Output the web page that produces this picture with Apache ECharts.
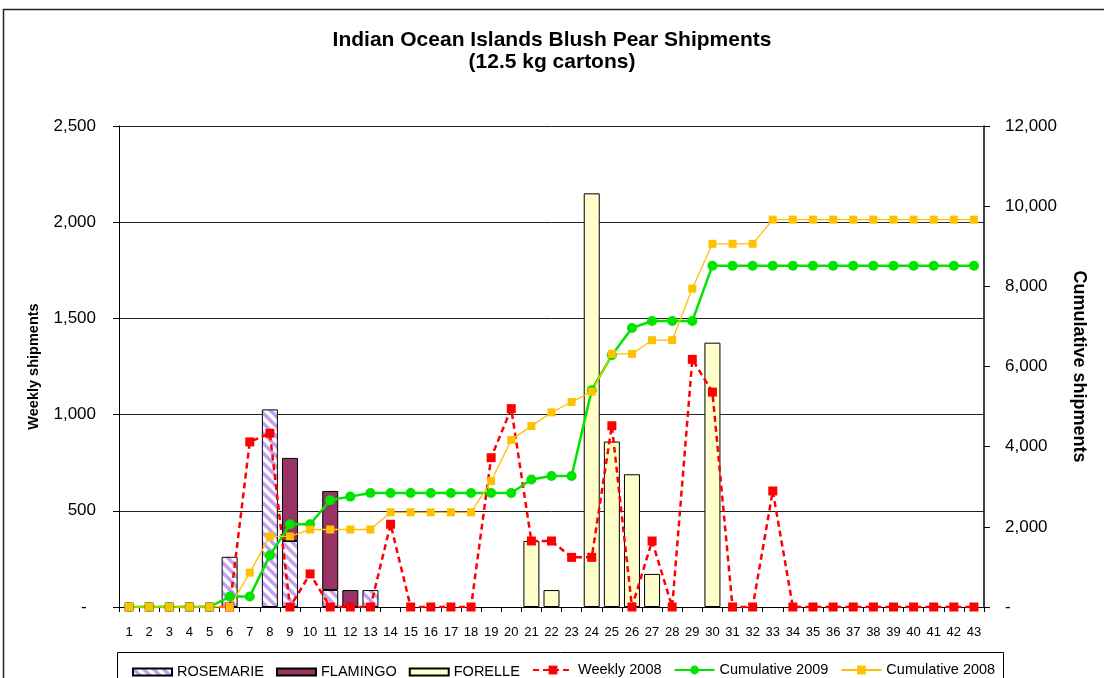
<!DOCTYPE html>
<html>
<head>
<meta charset="utf-8">
<script src="https://cdn.jsdelivr.net/npm/echarts@6/dist/echarts.min.js"></script>
<style>
  html, body { margin: 0; padding: 0; background: #fff; }
  #chart { width: 1104px; height: 678px; }
</style>
</head>
<body>
<div id="chart"></div>
<script>
// weeks 1..43
const weeks = ['1','2','3','4','5','6','7','8','9','10','11','12','13','14','15','16','17','18','19','20',
  '21','22','23','24','25','26','27','28','29','30','31','32','33','34','35','36','37','38','39','40','41','42','43'];

// weekly cartons per cultivar (2009), null = nothing shipped
const rosemarie = [null,null,null,null,null,261,null,1027,343,null,88,null,88,null,null,null,null,null,null,null,
  null,null,null,null,null,null,null,null,null,null,null,null,null,null,null,null,null,null,null,null,null,null,null];
const flamingo = [null,null,null,null,null,null,null,null,432,null,515,88,null,null,null,null,null,null,null,null,
  null,null,null,null,null,null,null,null,null,null,null,null,null,null,null,null,null,null,null,null,null,null,null];
const forelle = [null,null,null,null,null,null,null,null,null,null,null,null,null,null,null,null,null,null,null,null,
  343,88,null,2150,860,690,172,null,null,1374,null,null,null,null,null,null,null,null,null,null,null,null,null];

const weekly2008 = [0,0,0,0,0,0,858,903,0,172,0,0,0,430,0,0,0,0,776,1031,
  343,343,258,258,942,0,343,0,1287,1117,0,0,603,0,0,0,0,0,0,0,0,0,0];

const cumulative2009 = [0,0,0,0,0,261,261,1288,2063,2063,2666,2754,2842,2842,2842,2842,2842,2842,2842,2842,
  3180,3270,3270,5410,6283,6960,7135,7135,7135,8515,8515,8515,8515,8515,8515,8515,8515,8515,8515,8515,8515,8515,8515];

const cumulative2008 = [0,0,0,0,0,0,858,1761,1761,1933,1933,1933,1933,2363,2363,2363,2363,2363,3139,4170,
  4513,4856,5114,5372,6314,6314,6657,6657,7944,9061,9061,9061,9664,9664,9664,9664,9664,9664,9664,9664,9664,9664,9664];

const FONT = 'Liberation Sans, Arial, sans-serif';

// hatch for ROSEMARIE: white with lavender diagonal stripes
function makeHatch() {
  const c = document.createElement('canvas');
  c.width = 10; c.height = 10;
  const g = c.getContext('2d');
  g.fillStyle = '#ffffff';
  g.fillRect(0, 0, 10, 10);
  g.strokeStyle = '#c39ff0';
  g.lineWidth = 3.4;
  g.beginPath();
  g.moveTo(-3, -3); g.lineTo(13, 13);
  g.moveTo(-13, -3); g.lineTo(3, 13);
  g.moveTo(7, -3); g.lineTo(23, 13);
  g.stroke();
  return c;
}

const chart = echarts.init(document.getElementById('chart'));

const barBase = {
  type: 'bar',
  stack: 'cultivars',
  barWidth: 16,
  yAxisIndex: 0
};

const option = {
  animation: false,
  backgroundColor: '#fff',
  textStyle: { fontFamily: FONT },
  title: {
    text: 'Indian Ocean Islands Blush Pear Shipments\n(12.5 kg cartons)',
    left: 'center',
    top: 24,
    textStyle: { fontFamily: FONT, fontSize: 21, fontWeight: 'bold', color: '#000', lineHeight: 22 }
  },
  graphic: [
    {
      type: 'rect', z: -10, silent: true,
      shape: { x: 3.5, y: 9.5, width: 1120, height: 700 },
      style: { fill: 'none', stroke: '#222', lineWidth: 1.5 }
    },
    {
      type: 'rect', z: -5, silent: true,
      shape: { x: 117.5, y: 652.5, width: 886, height: 40 },
      style: { fill: '#fff', stroke: '#000', lineWidth: 1 }
    }
  ],
  legend: [
    {
      data: ['ROSEMARIE', 'FLAMINGO', 'FORELLE'],
      left: 127,
      top: 659.5,
      padding: 5,
      itemWidth: 39,
      itemHeight: 7,
      itemGap: 12,
      icon: 'rect',
      textStyle: { fontFamily: FONT, fontSize: 14.5, color: '#000' }
    },
    {
      data: ['Weekly 2008', 'Cumulative 2009', 'Cumulative 2008'],
      left: 527,
      top: 657.5,
      padding: 5,
      itemWidth: 40,
      itemHeight: 11,
      itemGap: 12,
      textStyle: { fontFamily: FONT, fontSize: 14.5, color: '#000' }
    }
  ],
  grid: { left: 119, right: 120, top: 126, bottom: 71 },
  xAxis: {
    type: 'category',
    data: weeks,
    axisLine: { lineStyle: { color: '#000', width: 1 } },
    axisTick: { show: true, alignWithLabel: false, length: 5, lineStyle: { color: '#000' } },
    axisLabel: { interval: 0, fontFamily: FONT, fontSize: 13, color: '#000', margin: 19 }
  },
  yAxis: [
    {
      type: 'value',
      min: 0, max: 2500, interval: 500,
      name: 'Weekly shipments',
      nameLocation: 'middle',
      nameRotate: 90,
      nameGap: 78,
      nameTextStyle: { fontFamily: FONT, fontSize: 14.5, fontWeight: 'bold', color: '#000' },
      axisLine: { show: true, lineStyle: { color: '#000', width: 1 } },
      axisTick: { show: true, length: 6, lineStyle: { color: '#000' } },
      axisLabel: {
        fontFamily: FONT, fontSize: 17, color: '#000', margin: 23,
        formatter: v => v === 0 ? '-  ' : v.toLocaleString('en-US')
      },
      splitLine: { show: true, lineStyle: { color: '#222', width: 1 } }
    },
    {
      type: 'value',
      min: 0, max: 12000, interval: 2000,
      position: 'right',
      name: 'Cumulative shipments',
      nameLocation: 'middle',
      nameRotate: -90,
      nameGap: 86,
      nameTextStyle: { fontFamily: FONT, fontSize: 18, fontWeight: 'bold', color: '#000' },
      axisLine: { show: true, lineStyle: { color: '#000', width: 1.5 } },
      axisTick: { show: true, length: 6, lineStyle: { color: '#000' } },
      axisLabel: {
        fontFamily: FONT, fontSize: 17, color: '#000', margin: 21,
        formatter: v => v === 0 ? '-' : v.toLocaleString('en-US')
      },
      splitLine: { show: false }
    }
  ],
  series: [
    Object.assign({}, barBase, {
      name: 'ROSEMARIE',
      data: rosemarie,
      itemStyle: { color: { image: makeHatch(), repeat: 'repeat' }, borderColor: '#000', borderWidth: 1 }
    }),
    Object.assign({}, barBase, {
      name: 'FLAMINGO',
      data: flamingo,
      itemStyle: { color: '#993366', borderColor: '#000', borderWidth: 1 }
    }),
    Object.assign({}, barBase, {
      name: 'FORELLE',
      data: forelle,
      itemStyle: { color: '#ffffcc', borderColor: '#000', borderWidth: 1 }
    }),
    {
      name: 'Weekly 2008',
      type: 'line',
      yAxisIndex: 0,
      data: weekly2008,
      symbol: 'rect',
      symbolSize: 9,
      showAllSymbol: true,
      lineStyle: { color: '#ff0000', width: 2.5, type: [6, 4] },
      itemStyle: { color: '#ff0000' }
    },
    {
      name: 'Cumulative 2009',
      type: 'line',
      yAxisIndex: 1,
      data: cumulative2009,
      symbol: 'circle',
      symbolSize: 10,
      showAllSymbol: true,
      lineStyle: { color: '#00e400', width: 2.5 },
      itemStyle: { color: '#00e400' }
    },
    {
      name: 'Cumulative 2008',
      type: 'line',
      yAxisIndex: 1,
      data: cumulative2008,
      symbol: 'rect',
      symbolSize: 8,
      showAllSymbol: true,
      lineStyle: { color: '#ffc000', width: 1.3 },
      itemStyle: { color: '#ffc000' }
    }
  ]
};

chart.setOption(option);
</script>
</body>
</html>
